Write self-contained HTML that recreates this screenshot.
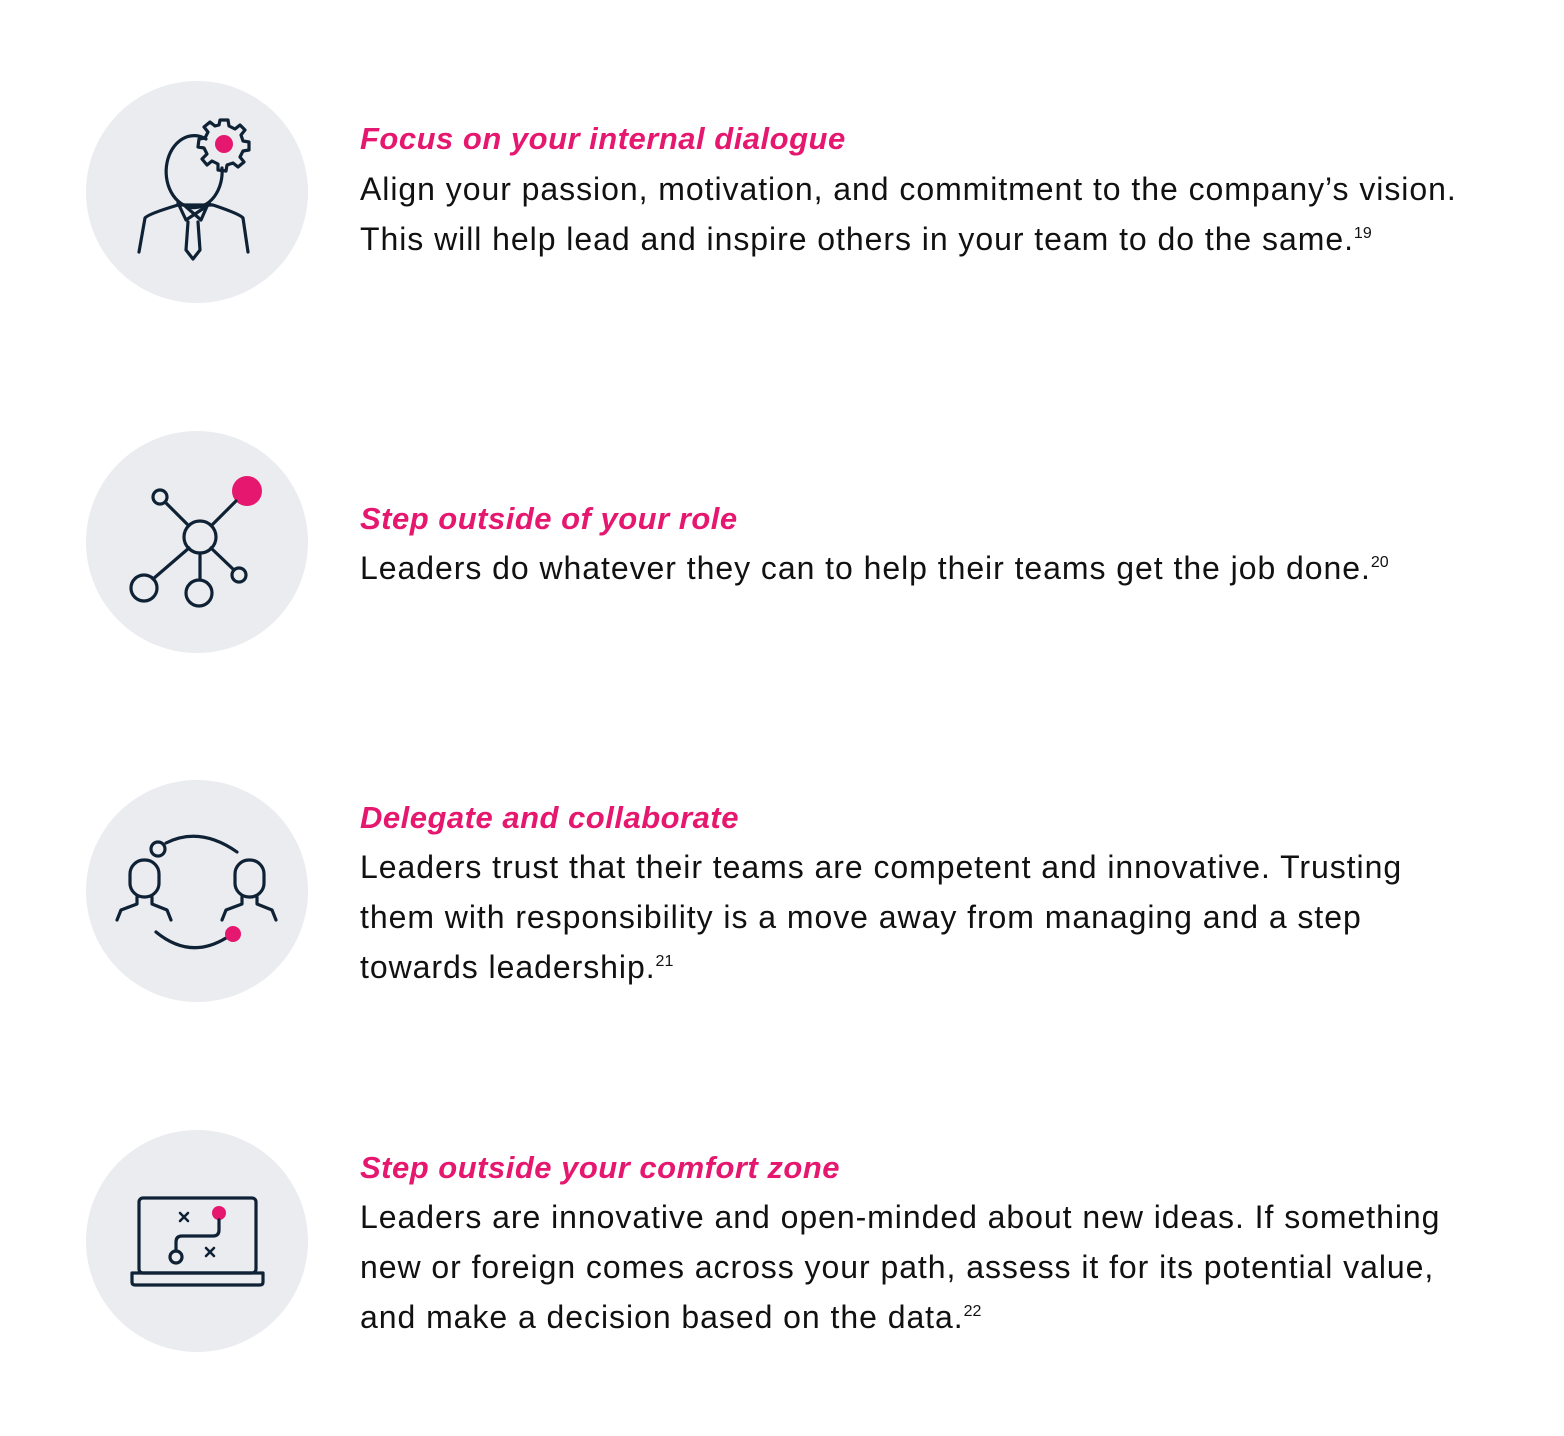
<!DOCTYPE html>
<html><head><meta charset="utf-8"><style>
body{margin:0;width:1564px;height:1436px;background:#fff;position:relative;overflow:hidden;font-family:"Liberation Sans",sans-serif}
.t{position:absolute;left:360px;font-size:32px;letter-spacing:0.95px;line-height:50px;color:#111;white-space:nowrap}
.h{color:#e5176f;font-style:italic;font-weight:bold;font-size:31px;letter-spacing:0.5px}
sup{font-size:16px;vertical-align:12px;line-height:0;letter-spacing:0}
svg{position:absolute;left:0;top:0}
</style></head><body>
<svg width="1564" height="1436" fill="none" stroke="#0f2235" stroke-width="3.2" stroke-linecap="round" stroke-linejoin="round">
<g fill="#ebecf0" stroke="none">
<circle cx="197" cy="192" r="111"/><circle cx="197" cy="542" r="111"/><circle cx="197" cy="891" r="111"/><circle cx="197" cy="1241" r="111"/></g>
<path d="M206 139 A28 36 0 1 0 222 168"/>
<g transform="translate(224,144)">
<path d="M-4 -24 L4 -24 L5 -18 L11 -15 L16 -19 L21 -14 L17 -9 L19 -3 L25 -2 L25 6 L19 7 L16 13 L20 18 L14 23 L9 19 L3 21 L2 27 L-6 26 L-6 20 L-12 17 L-17 21 L-22 15 L-17 10 L-20 4 L-26 3 L-25 -5 L-19 -6 L-16 -12 L-20 -17 L-14 -22 L-9 -18 L-5 -19 Z"/>
<circle r="9" fill="#e5176f" stroke="none"/></g>
<path d="M139 252 L145 218 Q148 214 178 205 L213 205 Q240 214 243 218 L248 252"/>
<path d="M178 203 L186 220 L210 204"/><path d="M184 205 L201 220 L208 204"/>
<path d="M188 222 L186 250 L193 259 L200 250 L198 222"/>
<circle cx="200" cy="537" r="16"/><circle cx="160" cy="497" r="7"/><circle cx="144" cy="588" r="13"/><circle cx="199" cy="593" r="13"/><circle cx="239" cy="575" r="7"/>
<circle cx="247" cy="491" r="15" fill="#e5176f" stroke="none"/>
<path d="M165 502 L188 525 M212 525 L236 501 M189 548 L153 579 M200 553 L200 580 M211 548 L234 570"/>
<circle cx="158" cy="849" r="7"/>
<path d="M166 843 Q200 826 237 852"/>
<path d="M156 932 Q190 960 226 938"/>
<circle cx="233" cy="934" r="8" fill="#e5176f" stroke="none"/>
<rect x="130" y="860" width="29" height="37" rx="14"/>
<path d="M137 897 L137 904 L121 910 L117 920 M152 897 L152 904 L167 910 L171 920"/>
<rect x="235" y="860" width="29" height="37" rx="14"/>
<path d="M242 897 L242 904 L226 910 L222 920 M257 897 L257 904 L272 910 L276 920"/>
<rect x="139" y="1198" width="117" height="75" rx="4"/>
<path d="M132 1273 L263 1273 L263 1282 Q263 1285 260 1285 L135 1285 Q132 1285 132 1282 Z"/>
<circle cx="219" cy="1213" r="7" fill="#e5176f" stroke="none"/>
<path d="M219 1220 L219 1230 Q219 1236 213 1236 L182 1236 Q176 1236 176 1242 L176 1251"/>
<circle cx="176" cy="1257" r="6"/>
<path d="M180 1213 L188 1221 M188 1213 L180 1221 M206 1248 L214 1256 M214 1248 L206 1256" stroke-width="2.6"/>
</svg>
<div class="t h" style="top:114px">Focus on your internal dialogue</div>
<div class="t" style="top:164px">Align your passion, motivation, and commitment to the company’s vision.<br>This will help lead and inspire others in your team to do the same.<sup>19</sup></div>
<div class="t h" style="top:494px">Step outside of your role</div>
<div class="t" style="top:543px">Leaders do whatever they can to help their teams get the job done.<sup>20</sup></div>
<div class="t h" style="top:793px">Delegate and collaborate</div>
<div class="t" style="top:842px">Leaders trust that their teams are competent and innovative. Trusting<br>them with responsibility is a move away from managing and a step<br>towards leadership.<sup>21</sup></div>
<div class="t h" style="top:1143px">Step outside your comfort zone</div>
<div class="t" style="top:1192px">Leaders are innovative and open-minded about new ideas. If something<br>new or foreign comes across your path, assess it for its potential value,<br>and make a decision based on the data.<sup>22</sup></div>
</body></html>
